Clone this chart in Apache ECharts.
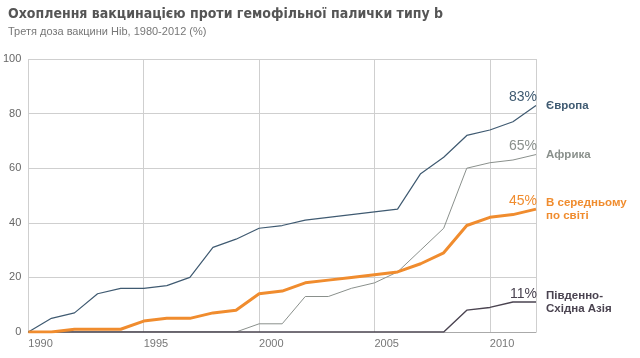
<!DOCTYPE html>
<html><head><meta charset="utf-8">
<script src="https://cdn.jsdelivr.net/npm/echarts@6/dist/echarts.min.js"></script>
<style>html,body{margin:0;padding:0;background:#fff}#c{width:640px;height:358px}</style>
</head><body><div id="c"></div>
<script>
const years = [1990,1991,1992,1993,1994,1995,1996,1997,1998,1999,2000,2001,2002,2003,2004,2005,2006,2007,2008,2009,2010,2011,2012];
const europe = [0,5,7,14,16,16,17,20,31,34,38,39,41,42,43,44,45,58,64,72,74,77,83];
const africa = [0,0,0,0,0,0,0,0,0,0,3,3,13,13,16,18,22,30,38,60,62,63,65];
const world  = [0,0,1,1,1,4,5,5,7,8,14,15,18,19,20,21,22,25,29,39,42,43,45];
const seAsia = [0,0,0,0,0,0,0,0,0,0,0,0,0,0,0,0,0,0,0,8,9,11,11];
const names = ['Європа','Африка','В середньому\nпо світі','Південно-\nСхідна Азія'];
const yTicks = [0,20,40,60,80,100];
const xTicks = [1990,1995,2000,2005,2010];

const colors = ['#3f5a71','#8a908c','#f08c2e','#4a4350'];
const widths = [1.2,1,3,1.4];
const sets = [europe, africa, world, seAsia];
const FF = 'Liberation Sans, Arial, sans-serif';

function mk(i){
  const vals = sets[i];
  const data = years.map((y,k)=>{
    const p = {value:[y, vals[k]]};
    if(k===years.length-1){
      p.label = {show:true, position:'top', align:'right', offset:[1,4],
        formatter: vals[k]+'%', color: colors[i], fontSize:14, fontFamily:FF};
    }
    return p;
  });
  return {
    type:'line', name:names[i], data, symbol:'circle', symbolSize:0, showSymbol:true, z: i===2?5:2,
    lineStyle:{color:colors[i], width:widths[i]},
    itemStyle:{color:colors[i]},
    endLabel:{show:true, formatter:names[i], color:colors[i], fontWeight:'bold',
      fontSize:11.5, lineHeight:13, distance:10, fontFamily:FF},
    emphasis:{disabled:true}, animation:false
  };
}

const chart = echarts.init(document.getElementById('c'));
chart.setOption({
  animation:false,
  title:{text:'Охоплення вакцинацією проти гемофільної палички типу b',
    subtext:'Третя доза вакцини Hib, 1980-2012 (%)', left:3, top:2, itemGap:5,
    textStyle:{fontSize:14, fontWeight:'bold', color:'#555', fontFamily:'Liberation Sans Narrow, DejaVu Sans Condensed, sans-serif'},
    subtextStyle:{fontSize:11, color:'#777', fontFamily:FF}},
  grid:{left:27, right:104, top:59, bottom:26, containLabel:false},
  xAxis:{type:'value', min:1990, max:2012, interval:5,
    axisLine:{show:true, lineStyle:{color:'#aaa'}}, axisTick:{show:false},
    splitLine:{show:true, lineStyle:{color:'#cfcfcf'}},
    axisLabel:{align:'left', margin:6, color:'#777', fontSize:11, fontFamily:FF,
      formatter:v=> xTicks.includes(v)? String(v):''}},
  yAxis:{type:'value', min:0, max:100, interval:20,
    axisLine:{show:false}, axisTick:{show:false},
    splitLine:{show:true, lineStyle:{color:'#cfcfcf'}},
    axisLabel:{color:'#666', fontSize:11, margin:7, fontFamily:FF,
      formatter:v=> yTicks.includes(v)? String(v):''}},
  series:[mk(1), mk(3), mk(0), mk(2)]
});
</script></body></html>
